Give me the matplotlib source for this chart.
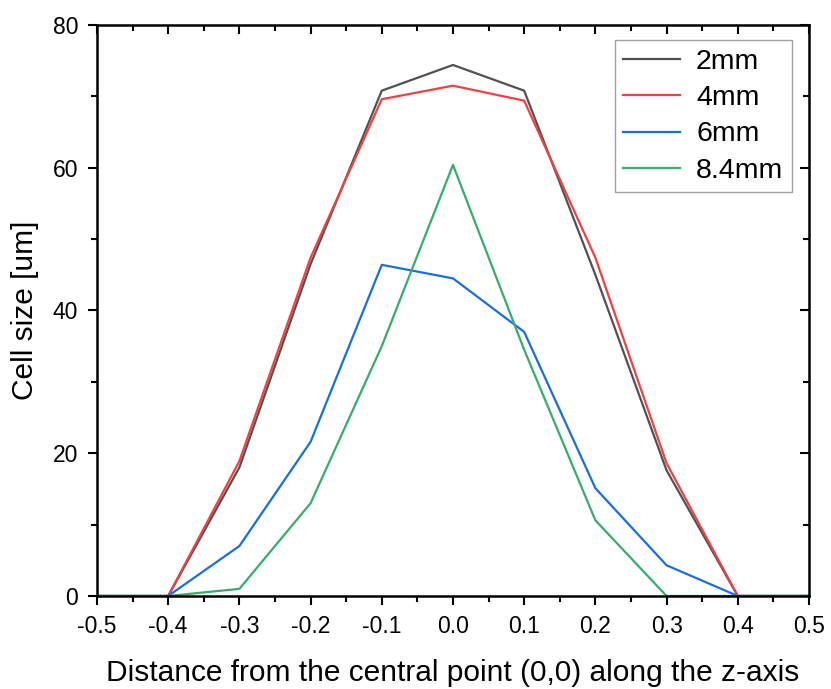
import matplotlib.pyplot as plt
from matplotlib.ticker import MultipleLocator

plt.rcParams['font.family'] = ['Liberation Sans', 'DejaVu Sans']

x = [-0.5, -0.4, -0.3, -0.2, -0.1, 0.0, 0.1, 0.2, 0.3, 0.4, 0.5]
size_2mm = [0, 0, 18.0, 46.5, 70.8, 74.4, 70.8, 45.0, 17.6, 0, 0]
size_4mm = [0, 0, 18.9, 47.4, 69.6, 71.5, 69.4, 47.4, 18.6, 0, 0]
size_6mm = [0, 0, 7.0, 21.6, 46.4, 44.5, 37.0, 15.1, 4.3, 0, 0]
size_84mm = [0, 0, 1.0, 13.0, 35.0, 60.4, 34.5, 10.6, 0, 0, 0]

labels = ['2mm', '4mm', '6mm', '8.4mm']
colors = ['#515151', '#F14040', '#1A6FDF', '#37AD6B']

fig = plt.figure(figsize=(8.31, 6.89), dpi=100)
ax = fig.add_axes([0.1167, 0.135, 0.8568, 0.8287])

for ys, lab, c in zip([size_2mm, size_4mm, size_6mm, size_84mm], labels, colors):
    ax.plot(x, ys, color=c, lw=1.6, label=lab)

ax.set_xlim(-0.5, 0.5)
ax.set_ylim(0, 80)
ax.xaxis.set_major_locator(MultipleLocator(0.1))
ax.xaxis.set_minor_locator(MultipleLocator(0.05))
ax.yaxis.set_major_locator(MultipleLocator(20))
ax.yaxis.set_minor_locator(MultipleLocator(10))
ax.set_xticklabels([f'{v:.1f}' for v in ax.get_xticks()])

ax.tick_params(which='both', labelsize=16.5, width=1.5, pad=7)
ax.tick_params(which='major', length=6.5)
ax.tick_params(which='minor', length=4)
ax.tick_params(which='both', top=True, right=True)
# bottom/left out, top/right in
for t in ax.xaxis.get_major_ticks() + ax.xaxis.get_minor_ticks():
    t.tick2line.set_marker(3)
for t in ax.yaxis.get_major_ticks() + ax.yaxis.get_minor_ticks():
    t.tick2line.set_marker(0)

for s in ax.spines.values():
    s.set_linewidth(1.8)

ax.set_xlabel('Distance from the central point (0,0) along the z-axis', fontsize=21.5, labelpad=15)
ax.set_ylabel('Cell size [um]', fontsize=21.5, labelpad=10)

leg = ax.legend(loc='upper right', bbox_to_anchor=(0.976, 0.973), fontsize=20.5,
                handlelength=2.0, fancybox=False, edgecolor='#888888',
                borderpad=0.3, labelspacing=0.36, handletextpad=0.55,
                borderaxespad=0.0)
leg.get_frame().set_linewidth(1.0)

fig.savefig('out.png', dpi=100)
